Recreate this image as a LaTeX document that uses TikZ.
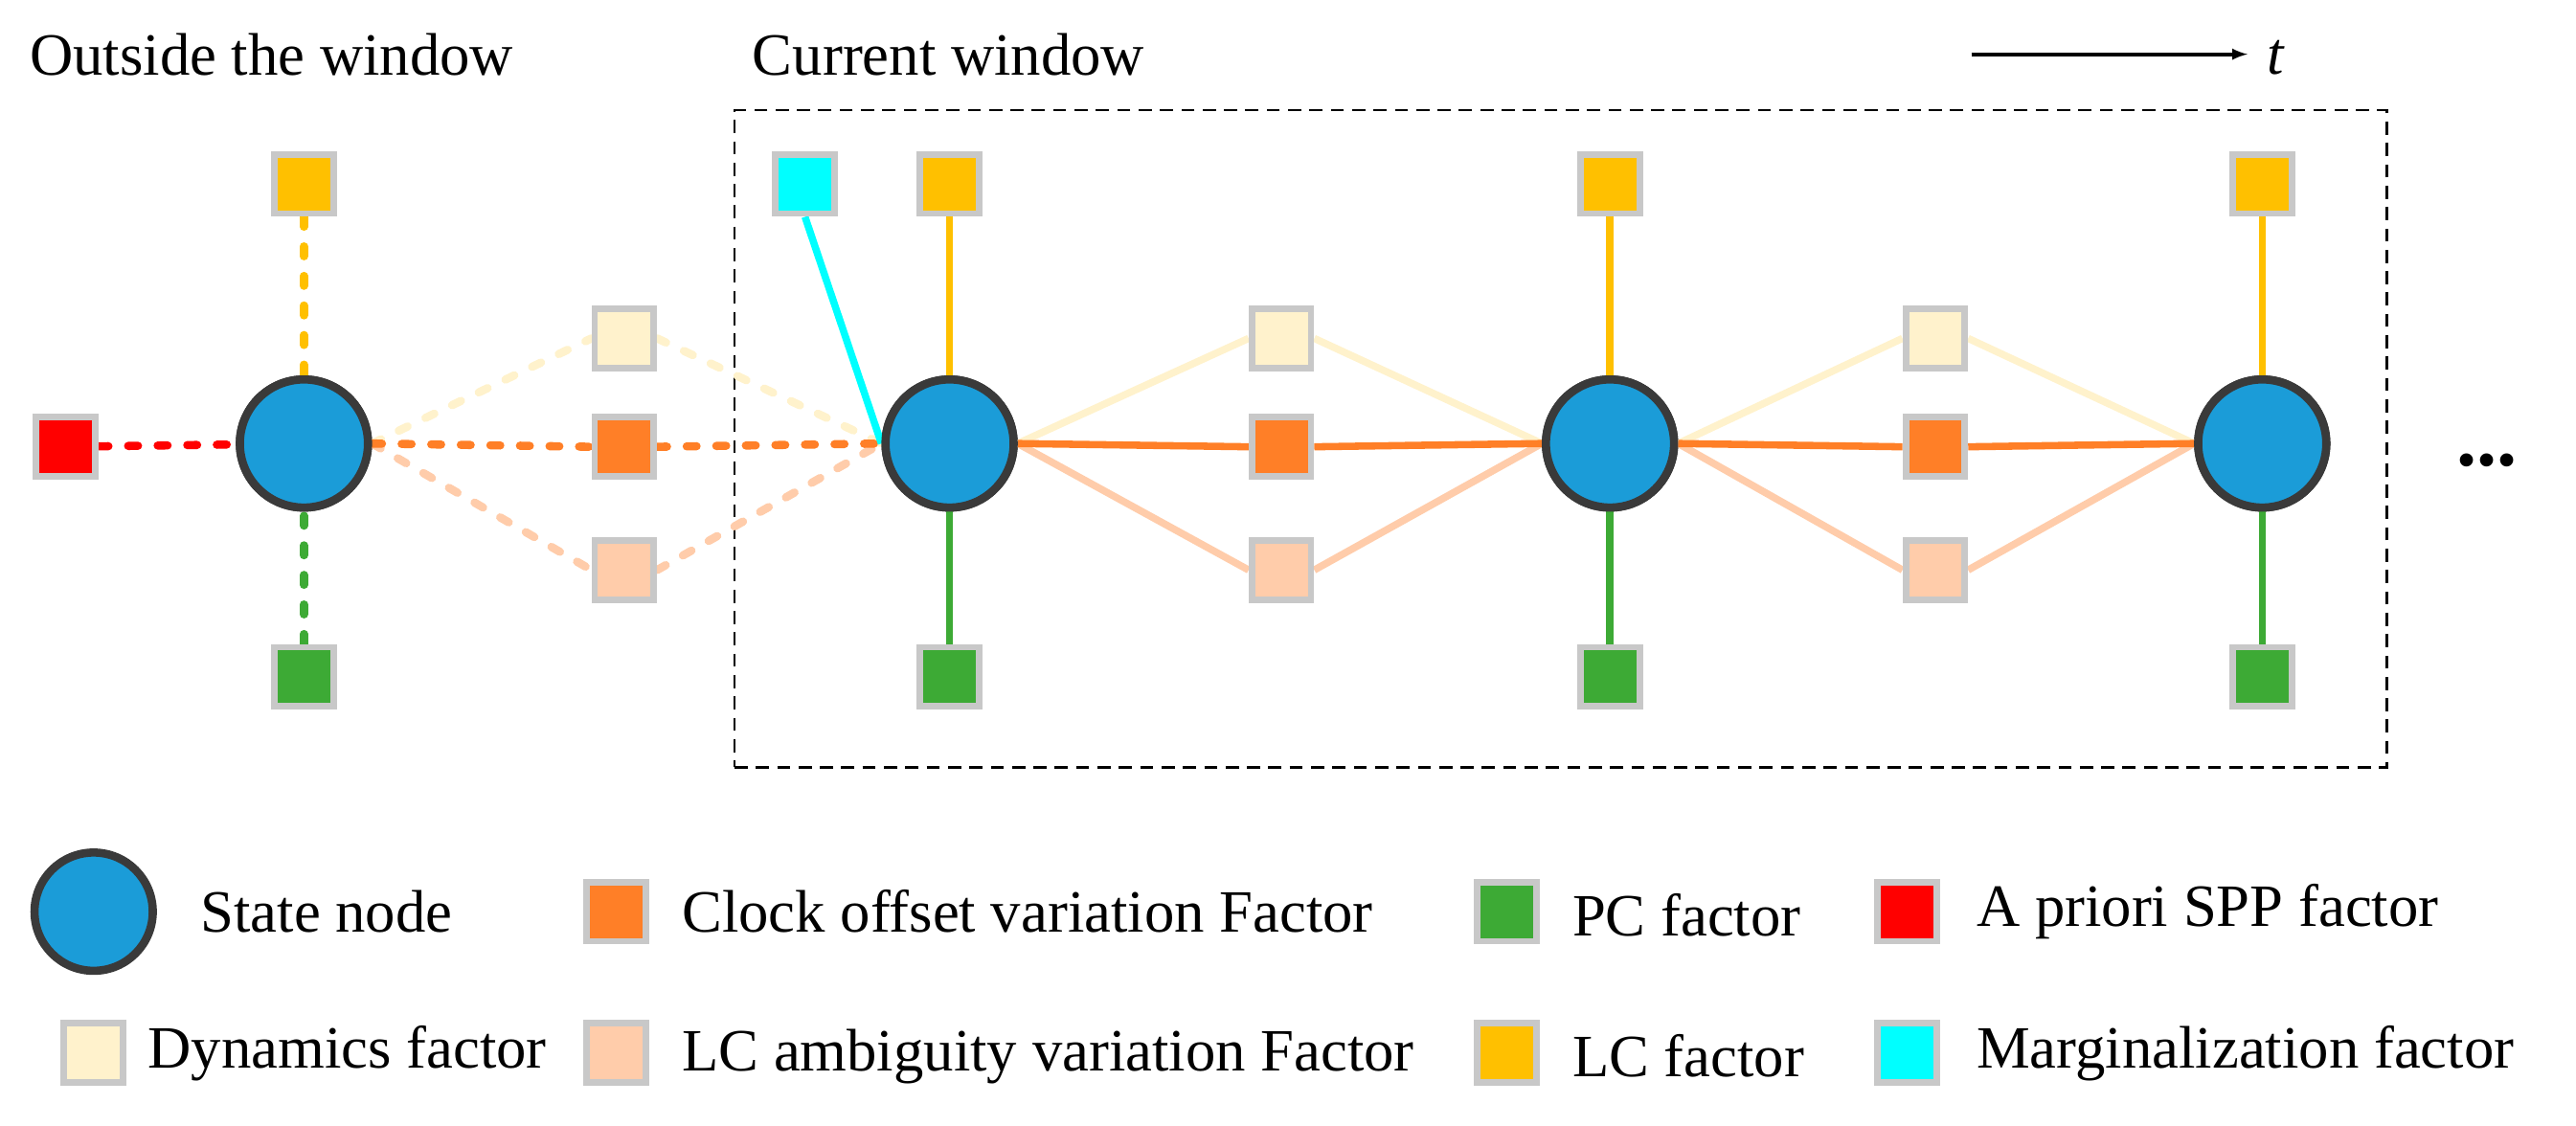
\documentclass[tikz,border=0pt]{standalone}
\usepackage{fontspec}
\setmainfont{Liberation Serif}
\begin{document}
\definecolor{cblue}{HTML}{1B9CD8}
\definecolor{cring}{HTML}{3A3A3A}
\definecolor{cyel}{HTML}{FFC000}
\definecolor{cgrn}{HTML}{3DAA35}
\definecolor{corg}{HTML}{FF7F27}
\definecolor{cdyn}{HTML}{FFF2CC}
\definecolor{camb}{HTML}{FFCCAA}
\definecolor{cred}{HTML}{FF0000}
\definecolor{ccyan}{HTML}{00FFFF}
\definecolor{cgray}{HTML}{C8C8C8}
\begin{tikzpicture}[x=0.05cm,y=-0.05cm,
 st/.style={circle,fill=cblue,draw=cring,line width=0.25cm,minimum size=3.9cm,inner sep=0},
 sq/.style={rectangle,fill=#1,draw=cgray,line width=0.2cm,minimum size=1.8cm,inner sep=0},
 ln/.style={draw=#1,line width=0.22cm},
 dl/.style={draw=#1,line width=0.25cm,line cap=round,dash pattern=on 0.3cm off 0.6cm},
 lab/.style={anchor=west,font=\fontsize{52}{60}\selectfont,inner sep=0}]
\useasboundingbox (0,0) rectangle (1568,685);
% window
\node[draw,line width=0.08cm,dash pattern=on 0.4cm off 0.25cm,minimum width=50.3cm,minimum height=20cm,inner sep=0] (win) at (950,267) {};
\node[lab] (t1) at (18,33) {Outside the window};
\node[lab] (t2) at (458,33) {Current window};
\coordinate (a1) at (1200,33); \coordinate (a2) at (1368,33);
\draw[-latex,line width=0.12cm] (a1) -- (a2);
\node[lab] (tt) at (1380,35) {\itshape t};
\node[lab,font=\fontsize{70}{70}\selectfont\bfseries] (dots) at (1495,280) {...};
% nodes
\foreach \i/\x in {0/185,1/578,2/980,3/1377}{
 \node[st] (s\i) at (\x,270) {};
 \node[sq=cyel] (y\i) at (\x,112) {};
 \node[sq=cgrn] (g\i) at (\x,412) {};
}
\foreach \i/\x in {0/380,1/780,2/1178}{
 \node[sq=cdyn] (d\i) at (\x,206) {};
 \node[sq=corg] (o\i) at (\x,272) {};
 \node[sq=camb] (m\i) at (\x,347) {};
}
\node[sq=cred] (r) at (40,272) {};
\node[sq=ccyan] (c) at (490,112) {};
% outside edges
\draw[dl=cyel] (y0) -- (s0);
\draw[dl=cgrn] (g0) -- (s0);
\draw[dl=cred] (r) -- (s0);
\draw[dl=cdyn] (s0.east) -- (d0.west); \draw[dl=cdyn] (d0.east) -- (s1.west);
\draw[dl=camb] (s0.east) -- (m0.west); \draw[dl=camb] (m0.east) -- (s1.west);
\draw[dl=corg] (s0.east) -- (o0.west); \draw[dl=corg] (o0.east) -- (s1.west);
\foreach \i in {1,2,3}{
 \draw[ln=cyel] (y\i) -- (s\i);
 \draw[ln=cgrn] (g\i) -- (s\i);
}
\draw[ln=ccyan] (c.south) -- (s1.west);
\draw[ln=cdyn] (s1.east) -- (d1.west); \draw[ln=cdyn] (d1.east) -- (s2.west);
\draw[ln=camb] (s1.east) -- (m1.west); \draw[ln=camb] (m1.east) -- (s2.west);
\draw[ln=corg] (s1.east) -- (o1.west); \draw[ln=corg] (o1.east) -- (s2.west);
\draw[ln=cdyn] (s2.east) -- (d2.west); \draw[ln=cdyn] (d2.east) -- (s3.west);
\draw[ln=camb] (s2.east) -- (m2.west); \draw[ln=camb] (m2.east) -- (s3.west);
\draw[ln=corg] (s2.east) -- (o2.west); \draw[ln=corg] (o2.east) -- (s3.west);
% redraw nodes on top
\foreach \i/\x in {0/185,1/578,2/980,3/1377}{
 \node[st] at (\x,270) {};
 \node[sq=cyel] at (\x,112) {};
 \node[sq=cgrn] at (\x,412) {};
}
\foreach \i/\x in {0/380,1/780,2/1178}{
 \node[sq=cdyn] at (\x,206) {};
 \node[sq=corg] at (\x,272) {};
 \node[sq=camb] at (\x,347) {};
}
\node[sq=cred] at (40,272) {};
\node[sq=ccyan] at (490,112) {};
% legend
\node[st,minimum size=3.6cm] (L1) at (57,555) {};
\node[lab] (L1t) at (122,555) {State node};
\node[sq=corg] (L2) at (375,555) {}; \node[lab] (L2t) at (415,555) {Clock offset variation Factor};
\node[sq=cgrn] (L3) at (917,555) {}; \node[lab] (L3t) at (957,557) {PC factor};
\node[sq=cred] (L4) at (1161,555) {}; \node[lab] (L4t) at (1203,555) {A priori SPP factor};
\node[sq=cdyn] (L5) at (57,641) {}; \node[lab] (L5t) at (90,641) {Dynamics factor};
\node[sq=camb] (L6) at (375,641) {}; \node[lab] (L6t) at (415,643) {LC ambiguity variation Factor};
\node[sq=cyel] (L7) at (917,641) {}; \node[lab] (L7t) at (957,643) {LC factor};
\node[sq=ccyan] (L8) at (1161,641) {}; \node[lab] (L8t) at (1203,641) {Marginalization factor};
\end{tikzpicture}
\end{document}
